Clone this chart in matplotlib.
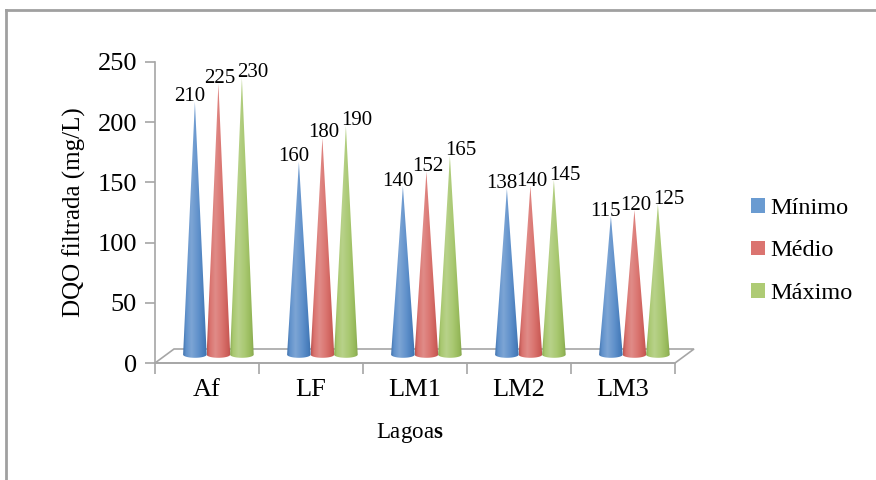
import numpy as np
import matplotlib
matplotlib.use("Agg")
import matplotlib.pyplot as plt
from matplotlib.path import Path
from matplotlib.patches import PathPatch, Polygon, Patch
from matplotlib.lines import Line2D
from matplotlib.colors import to_rgb

plt.rcParams["font.family"] = ["Liberation Serif", "DejaVu Serif"]
plt.rcParams["mathtext.fontset"] = "custom"
plt.rcParams["mathtext.rm"] = "Liberation Serif"
plt.rcParams["mathtext.bf"] = "Liberation Serif:bold"

# ---- data ----
lagoas = ["Af", "LF", "LM1", "LM2", "LM3"]
series_names = ["Mínimo", "Médio", "Máximo"]
minimo = [210, 160, 140, 138, 115]
medio = [225, 180, 152, 140, 120]
maximo = [230, 190, 165, 145, 125]
series_values = [minimo, medio, maximo]
y_ticks = [0, 50, 100, 150, 200, 250]

# ---- style ----
base_colors = ["#4A82C4", "#D45F5A", "#9CC05C"]
legend_colors = ["#6A9BD1", "#DB7470", "#AECB74"]
grid_gray = "#A6A6A6"

W, H = 876, 480
fig = plt.figure(figsize=(W / 100, H / 100), dpi=100)
fig.patch.set_facecolor("white")

ax_l, ax_r, ax_t, ax_b = 155, 675, 62, 363
ax = fig.add_axes([ax_l / W, 1 - ax_b / H, (ax_r - ax_l) / W, (ax_b - ax_t) / H])
ax.set_xlim(-0.5, len(lagoas) - 0.5)
ax.set_ylim(0, 250)
ax.patch.set_visible(False)

px_x = (len(lagoas)) / (ax_r - ax_l)     # category units per pixel
px_y = 250 / (ax_b - ax_t)               # value units per pixel

# depth of the floor (pseudo 3-D)
depth_dx = 19 * px_x
depth_dy = 14 * px_y

# floor outline
n = len(lagoas)
floor = Polygon([(-0.5, 0), (n - 0.5, 0), (n - 0.5 + depth_dx, depth_dy),
                 (-0.5 + depth_dx, depth_dy)], closed=True, facecolor="none",
                edgecolor=grid_gray, lw=1.2, clip_on=False, zorder=1)
ax.add_patch(floor)

# cone geometry
frac = 0.6
cone_half_w = 11.8 * px_x
cone_gap = 23.5 * px_x
ell_h = 3.2 * px_y
label_dx = [-5 * px_x, 1 * px_x, 11 * px_x]


def shade(color, n_pts=96):
    c = np.array(to_rgb(color))
    f = np.linspace(0, 1, n_pts)
    stops_f = [0.0, 0.12, 0.35, 0.65, 0.9, 1.0]
    stops = [c * 0.88, c + (1 - c) * 0.12, c + (1 - c) * 0.28,
             c + (1 - c) * 0.12, c * 0.95, c * 0.85]
    out = np.zeros((n_pts, 3))
    for k in range(3):
        out[:, k] = np.interp(f, stops_f, [s[k] for s in stops])
    return out[None, :, :]


for s, vals in enumerate(series_values):
    grad = shade(base_colors[s])
    for i, v in enumerate(vals):
        cx = i + frac * depth_dx + (s - 1) * cone_gap
        by = frac * depth_dy
        top = by + v
        t = np.linspace(np.pi, 2 * np.pi, 40)
        xs = cx + cone_half_w * np.cos(t)
        ys = by + ell_h * np.sin(t)
        verts = list(zip(xs, ys)) + [(cx, top), (xs[0], ys[0])]
        codes = [Path.MOVETO] + [Path.LINETO] * (len(verts) - 2) + [Path.CLOSEPOLY]
        patch = PathPatch(Path(verts, codes), facecolor="none", edgecolor="none",
                          zorder=2 + s)
        ax.add_patch(patch)
        im = ax.imshow(grad, extent=[cx - cone_half_w, cx + cone_half_w, by - ell_h, top],
                       aspect="auto", interpolation="bilinear", zorder=2 + s)
        im.set_clip_path(patch)
        ax.text(cx + label_dx[s], top + 5 * px_y, str(v), ha="center", va="center",
                fontsize=15, color="black", zorder=10, clip_on=False)

# axes lines and ticks
for side in ["top", "right"]:
    ax.spines[side].set_visible(False)
for side in ["left", "bottom"]:
    ax.spines[side].set_color(grid_gray)
    ax.spines[side].set_linewidth(1.2)

ax.set_yticks(y_ticks)
ax.set_yticklabels([str(t) for t in y_ticks])
ax.tick_params(axis="y", direction="out", length=7, width=1.2, color=grid_gray,
               pad=6, labelsize=19)

ax.set_xticks(np.arange(-0.5, n, 1.0))
ax.set_xticklabels([])
ax.tick_params(axis="x", which="major", direction="out", length=8, width=1.2,
               color=grid_gray)
ax.set_xticks(np.arange(n), minor=True)
ax.set_xticklabels(lagoas, minor=True)
ax.tick_params(axis="x", which="minor", length=0, pad=11.5, labelsize=19)

ax.set_ylabel("DQO filtrada (mg/L)", fontsize=18, labelpad=8)
ax.set_xlabel(r"Lagoa$\mathbf{s}$", fontsize=16.5)
ax.xaxis.set_label_coords((410 - ax_l) / (ax_r - ax_l), (ax_b - 433) / (ax_b - ax_t))
ax.xaxis.label.set_va("center")

# legend
handles = [Patch(facecolor=c, edgecolor="none") for c in legend_colors]
fig.legend(handles, series_names, loc="center left",
           bbox_to_anchor=(739 / W, 1 - 251 / H), frameon=False, fontsize=17.5,
           handlelength=0.55, handleheight=0.55, handletextpad=0.25,
           labelspacing=0.88, borderpad=0)

# outer chart frame (top and left edges)
fig.add_artist(Line2D([6 / W, 1], [1 - 10 / H, 1 - 10 / H], color="#A0A0A0", lw=2,
                      transform=fig.transFigure))
fig.add_artist(Line2D([6 / W, 6 / W], [0, 1 - 10 / H], color="#A0A0A0", lw=2,
                      transform=fig.transFigure))

fig.savefig("out.png", dpi=100)
